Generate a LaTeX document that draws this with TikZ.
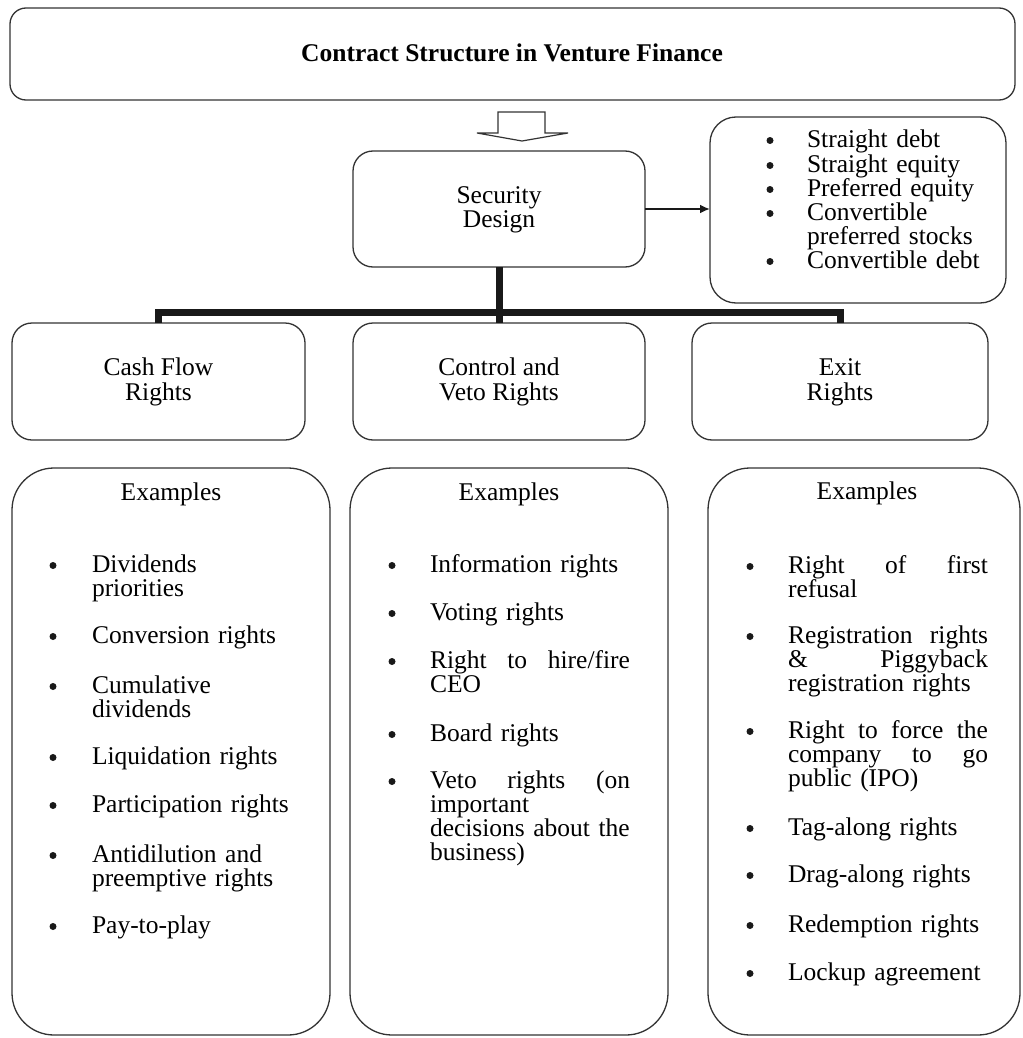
\documentclass[tikz,border=0pt]{standalone}
\usepackage{fontspec}
\setmainfont{Liberation Serif}
\usetikzlibrary{arrows.meta}

\tikzset{
  panel/.style={draw=black!80, line width=1.3pt, inner sep=0pt, outer sep=0pt, fill=white},
  txt/.style={inner sep=0pt, outer sep=0pt, font=\fontsize{25.5}{24}\selectfont, text=black},
  cline/.style={txt, anchor=base},
  dot/.style={circle, fill=black!90, inner sep=0pt, minimum size=7pt, yshift=6.5pt},
  item/.style={txt, anchor=base west, text width=235pt, align=left},
  bus/.style={line width=7pt, draw=black!90},
  conn/.style={line width=2.8pt, draw=black!90, -{Latex[length=10pt,width=9pt]}},
}
\newcommand{\spreadline}[1]{\makebox[200pt][l]{#1}}

\begin{document}
\begin{tikzpicture}[x=1pt,y=-1pt]
\useasboundingbox (0,0) rectangle (1022,1038);

% ---- boxes ----
\node[panel, rounded corners=16pt, minimum width=1005pt, minimum height=92pt] (title) at (512.5,54) {};
\node[panel, rounded corners=20pt, minimum width=292pt, minimum height=116pt] (sd) at (499,209) {};
\node[panel, rounded corners=26pt, minimum width=296pt, minimum height=186pt] (types) at (858,210) {};
\node[panel, rounded corners=20pt, minimum width=293pt, minimum height=117pt] (cf) at (158.5,381.5) {};
\node[panel, rounded corners=20pt, minimum width=292pt, minimum height=117pt] (cv) at (499,381.5) {};
\node[panel, rounded corners=20pt, minimum width=296pt, minimum height=117pt] (ex) at (840,381.5) {};
\node[panel, rounded corners=42pt, minimum width=318pt, minimum height=567pt] (exl) at (171,751.5) {};
\node[panel, rounded corners=42pt, minimum width=318pt, minimum height=567pt] (exm) at (509,751.5) {};
\node[panel, rounded corners=42pt, minimum width=312pt, minimum height=567pt] (exr) at (864,751.5) {};

% ---- hollow arrow from the title down to the security design ----
\draw[black!80, line width=1.2pt, fill=white]
  (498,112) -- (545,112) -- (545,133) -- (568,133) -- (522,141)
  -- (477,133) -- (498,133) -- cycle;

% ---- connectors ----
\draw[conn] (sd.east) -- (sd.east -| types.west);
\coordinate (hub) at (499,312);
\draw[bus] (sd.south) -- (cv.north);
\draw[bus] (cf.north) -- (cf.north |- hub) -- (ex.north |- hub) -- (ex.north);

% ---- title and headings ----
\node[cline, font=\fontsize{25.5}{24}\selectfont\bfseries] (ttl) at (512,62) {Contract Structure in Venture Finance};
\node[cline] (sd1) at (499,203) {Security};
\node[cline] (sd2) at (499,227) {Design};
\node[cline] (cf1) at (158.5,375) {Cash Flow};
\node[cline] (cf2) at (158.5,400) {Rights};
\node[cline] (cv1) at (499,375) {Control and};
\node[cline] (cv2) at (499,400) {Veto Rights};
\node[cline] (ex1) at (840,375) {Exit};
\node[cline] (ex2) at (840,400) {Rights};

% ---- security types ----
\node[dot] (tb1) at (770,147) {}; \node[item] (tt1) at (807,147) {Straight debt};
\node[dot] (tb2) at (770,172) {}; \node[item] (tt2) at (807,172) {Straight equity};
\node[dot] (tb3) at (770,196) {}; \node[item] (tt3) at (807,196) {Preferred equity};
\node[dot] (tb4) at (770,220) {}; \node[item] (tt4) at (807,220) {Convertible\\preferred stocks};
\node[dot] (tb5) at (770,268) {}; \node[item] (tt5) at (807,268) {Convertible debt};

% ---- cash flow rights examples ----
\node[cline] (exlh) at (171,500) {Examples};
\node[dot] (lb1) at (53,572) {}; \node[item] (lt1) at (92,572) {Dividends\\priorities};
\node[dot] (lb2) at (53,643) {}; \node[item] (lt2) at (92,643) {Conversion rights};
\node[dot] (lb3) at (53,693) {}; \node[item] (lt3) at (92,693) {Cumulative\\dividends};
\node[dot] (lb4) at (53,764) {}; \node[item] (lt4) at (92,764) {Liquidation rights};
\node[dot] (lb5) at (53,812) {}; \node[item] (lt5) at (92,812) {Participation rights};
\node[dot] (lb6) at (53,862) {}; \node[item] (lt6) at (92,862) {Antidilution and\\preemptive rights};
\node[dot] (lb7) at (53,933) {}; \node[item] (lt7) at (92,933) {Pay-to-play};

% ---- control and veto rights examples ----
\node[cline] (exmh) at (509,500) {Examples};
\node[dot] (mb1) at (392,572) {}; \node[item] (mt1) at (430,572) {Information rights};
\node[dot] (mb2) at (392,620) {}; \node[item] (mt2) at (430,620) {Voting rights};
\node[dot] (mb3) at (392,668) {}; \node[item] (mt3) at (430,668) {\spreadline{Right\hfill to\hfill hire/fire}\\CEO};
\node[dot] (mb4) at (392,741) {}; \node[item] (mt4) at (430,741) {Board rights};
\node[dot] (mb5) at (392,788) {}; \node[item] (mt5) at (430,788) {\spreadline{Veto\hfill rights\hfill (on}\\important\\decisions about the\\business)};

% ---- exit rights examples ----
\node[cline] (exrh) at (867,499) {Examples};
\node[dot] (rb1) at (750,573) {}; \node[item] (rt1) at (788,573) {\spreadline{Right\hfill of\hfill first}\\refusal};
\node[dot] (rb2) at (750,643) {}; \node[item] (rt2) at (788,643) {\spreadline{Registration\hfill rights}\\\spreadline{\&\hfill Piggyback}\\registration rights};
\node[dot] (rb3) at (750,738) {}; \node[item] (rt3) at (788,738) {\spreadline{Right\hfill to\hfill force\hfill the}\\\spreadline{company\hfill to\hfill go}\\public (IPO)};
\node[dot] (rb4) at (750,835) {}; \node[item] (rt4) at (788,835) {Tag-along rights};
\node[dot] (rb5) at (750,882) {}; \node[item] (rt5) at (788,882) {Drag-along rights};
\node[dot] (rb6) at (750,932) {}; \node[item] (rt6) at (788,932) {Redemption rights};
\node[dot] (rb7) at (750,980) {}; \node[item] (rt7) at (788,980) {Lockup agreement};
\end{tikzpicture}
\end{document}
